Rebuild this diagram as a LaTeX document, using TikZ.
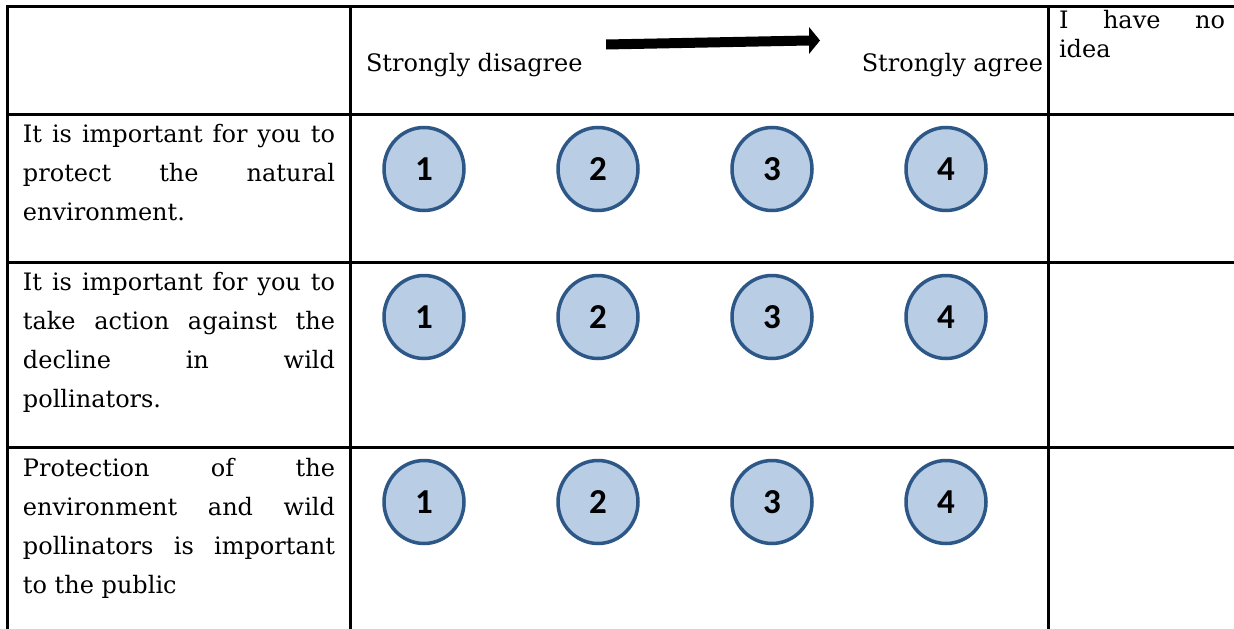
\documentclass[tikz,border=0pt]{standalone}
\usepackage{fontspec}
\setmainfont{DejaVu Serif}
\newfontfamily\numfont{Carlito}
\usetikzlibrary{shapes.geometric}
\tikzset{
  grid/.style={line width=3pt, black, line cap=rect},
  celltext/.style={anchor=base west, inner sep=0pt, outer sep=0pt,
    font=\fontsize{24}{39}\selectfont},
  bubble/.style={ellipse, draw=bubbleline, fill=bubblefill, line width=3.5pt,
    minimum width=80pt, minimum height=83pt, inner sep=0pt,
    font=\numfont\bfseries\fontsize{35}{35}\selectfont},
}
\definecolor{bubblefill}{HTML}{B9CDE5}
\definecolor{bubbleline}{HTML}{2D5787}
\newcommand{\jline}[1]{\makebox[312pt][s]{#1}}
\begin{document}
\begin{tikzpicture}[x=1pt,y=-1pt]
\useasboundingbox (0,0) rectangle (1234,629);
\fill[white] (0,0) rectangle (1234,629);
% grid
\coordinate (tl) at (7,6);
\coordinate (tr) at (1234,6);
\coordinate (bl) at (7,629);
\draw[grid] (tl) -- (tr);
\draw[grid] (tl) -- (bl);
\draw[grid] (350,6) -- (350,629);
\draw[grid] (1048,6) -- (1048,629);
\foreach \yy in {114,262,447}{
  \draw[grid] (7,\yy) -- (1234,\yy);
}
% header
\node[celltext] (sd) at (366,71.7) {Strongly disagree};
\node[celltext, anchor=base east] (sa) at (1043,71.7) {Strongly agree};
\node[celltext] (idk) at (1059,28) {\parbox[t]{166pt}{\fontsize{24}{29}\selectfont\makebox[166pt][s]{I have no}\\idea}};
% arrow
\fill[black] (606,39.5) -- (809,35.5) -- (809,27) -- (820,40.5) -- (809,54) -- (809,45.5) -- (606,49.5) -- cycle;
% row texts
\node[celltext] (q1) at (23,142.7) {\parbox[t]{312pt}{\fontsize{24}{39}\selectfont
  \jline{It is important for you to}\\
  \jline{protect the natural}\\
  environment.}};
\node[celltext] (q2) at (23,290.7) {\parbox[t]{312pt}{\fontsize{24}{39}\selectfont
  \jline{It is important for you to}\\
  \jline{take action against the}\\
  \jline{decline in wild}\\
  pollinators.}};
\node[celltext] (q3) at (23,476) {\parbox[t]{312pt}{\fontsize{24}{39}\selectfont
  \jline{Protection of the}\\
  \jline{environment and wild}\\
  \jline{pollinators is important}\\
  to the public}};
% bubbles
\foreach \r/\yy in {1/169,2/317,3/502}{
  \foreach \c/\xx in {1/424,2/598,3/772,4/946}{
    \node[bubble] (b\r\c) at (\xx,\yy) {\c};
  }
}
\end{tikzpicture}
\end{document}
